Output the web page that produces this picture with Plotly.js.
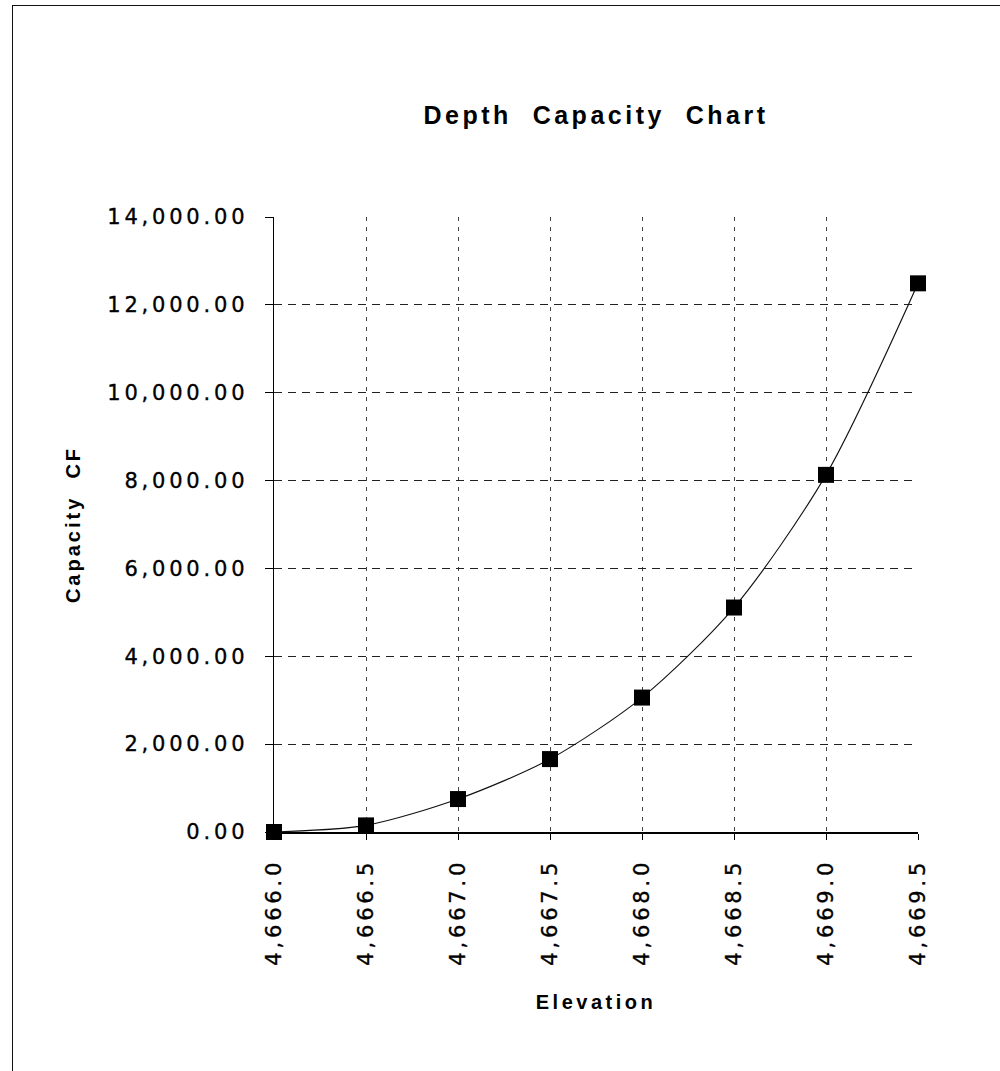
<!DOCTYPE html>
<html>
<head>
<meta charset="utf-8">
<script src="https://cdn.plot.ly/plotly-3.0.1.min.js"></script>
<style>
  html, body { margin: 0; padding: 0; background: #fff; }
  #frame { position: absolute; left: 12px; top: 5px; width: 988px; height: 1066px;
           border-left: 1.5px solid #111; border-top: 1.5px solid #111; }
  #chart { position: absolute; left: 0; top: 0; width: 1000px; height: 1071px; }
  .ytick text, .xtick text { letter-spacing: 3.8px; stroke: #000; stroke-width: 0.35px; }
  .gtitle { letter-spacing: 3.5px; }
  .ytitle { letter-spacing: 3px; }
  .xtitle { letter-spacing: 3.5px; }
</style>
</head>
<body>
<div id="chart"></div>
<div id="frame"></div>
<script>
const elevation = [4666.0, 4666.5, 4667.0, 4667.5, 4668.0, 4668.5, 4669.0, 4669.5];
const capacityCF = [0, 150, 750, 1660, 3060, 5110, 8130, 12490];
const chartTitle = 'Depth  Capacity  Chart';
const xTitle = 'Elevation';
const yTitle = 'Capacity  CF';

const font = 'Liberation Sans, Arial, Helvetica, sans-serif';
const tickFont = 'DejaVu Sans, Liberation Sans, sans-serif';

const trace = {
  x: elevation,
  y: capacityCF,
  type: 'scatter',
  mode: 'lines+markers',
  line: { color: '#111', width: 1.1, shape: 'spline', smoothing: 0.8 },
  marker: { symbol: 'square', size: 16, color: '#000' },
  cliponaxis: false,
  hoverinfo: 'skip'
};

const layout = {
  width: 1000, height: 1071,
  margin: { l: 274, r: 82, t: 217, b: 239 },
  paper_bgcolor: '#fff', plot_bgcolor: '#fff',
  showlegend: false,
  font: { family: font, color: '#000', size: 19 },
  title: {
    text: '<b>' + chartTitle + '</b>',
    font: { family: font, size: 25, color: '#000' },
    xref: 'paper', x: 0.5, xanchor: 'center',
    yref: 'container', y: 1 - 115 / 1071, yanchor: 'middle'
  },
  xaxis: {
    range: [4666.0, 4669.5],
    dtick: 0.5, tick0: 4666.0,
    tickformat: ',.1f',
    tickangle: -90,
    ticks: 'outside', ticklen: 6, tickcolor: '#000', tickwidth: 1,
    ticklabelstandoff: 11,
    showline: true, linecolor: '#000', linewidth: 1.5,
    showgrid: true, gridcolor: '#444', gridwidth: 1, griddash: '4px,6px',
    zeroline: false,
    tickfont: { family: tickFont, size: 21, color: '#000' },
    title: { text: '<b>' + xTitle + '</b>', font: { family: font, size: 20, color: '#000' }, standoff: 30 },
    automargin: false
  },
  yaxis: {
    range: [0, 14000],
    dtick: 2000,
    tickformat: ',.2f',
    ticks: 'outside', ticklen: 8, tickcolor: '#000', tickwidth: 1,
    ticklabelstandoff: 12,
    showline: true, linecolor: '#000', linewidth: 1.5,
    showgrid: true, gridcolor: '#222', gridwidth: 1, griddash: '8px,6px',
    zeroline: false,
    tickfont: { family: tickFont, size: 21, color: '#000' },
    title: { text: '<b>' + yTitle + '</b>', font: { family: font, size: 20, color: '#000' }, standoff: 21 },
    automargin: false
  }
};

Plotly.newPlot('chart', [trace], layout, { displayModeBar: false, staticPlot: true });
</script>
</body>
</html>
